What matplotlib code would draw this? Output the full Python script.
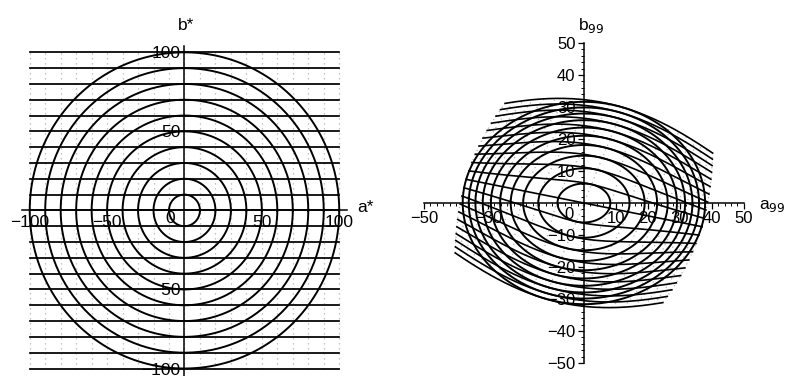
import numpy as np
import matplotlib
matplotlib.use('Agg')
import matplotlib.pyplot as plt

plt.rcParams['font.family'] = ['Liberation Sans', 'DejaVu Sans']

# CIELAB grid that is drawn on the left and mapped to DIN99 on the right
chroma_levels = [10, 20, 30, 40, 50, 60, 70, 80, 90, 100]
b_levels = [-100, -90, -80, -70, -60, -50, -40, -30, -20, -10, 0,
            10, 20, 30, 40, 50, 60, 70, 80, 90, 100]
a_levels = [-100, -90, -80, -70, -60, -50, -40, -30, -20, -10, 0,
            10, 20, 30, 40, 50, 60, 70, 80, 90, 100]
a_range = (-100, 100)

lab_ticks = [-100, -50, 50, 100]
din_xticks = [-50, -30, 10, 20, 30, 40, 50]
din_yticks = [-50, -40, -30, -20, -10, 10, 20, 30, 40, 50]


def din99(a, b):
    # DIN 6176 (1999) chroma plane
    c, s = np.cos(np.radians(16)), np.sin(np.radians(16))
    e = a*c + b*s
    f = 0.7*(-a*s + b*c)
    G = np.hypot(e, f)
    C99 = np.log(1 + 0.045*G)/0.045
    h = np.arctan2(f, e)
    return C99*np.cos(h), C99*np.sin(h)


t = np.linspace(0, 2*np.pi, 400)
u = np.linspace(a_range[0], a_range[1], 200)

fig = plt.figure(figsize=(7.88, 3.76), dpi=100)
ax1 = fig.add_axes([0.0279, -0.0053, 0.4124, 0.883])
ax2 = fig.add_axes([0.538, 0.0346, 0.406, 0.851])

lw = 1.4
dot = dict(color='0.7', lw=0.9, ls=(0, (1, 3)))

#%% left: a*, b*
for a in a_levels:
    ax1.plot([a, a], a_range, **dot)
for b in b_levels:
    ax1.plot(a_range, [b, b], color='k', lw=lw*0.9)
for C in chroma_levels:
    ax1.plot(C*np.cos(t), C*np.sin(t), color='k', lw=lw)

#%% right: a99, b99
for a in a_levels:
    x, y = din99(np.full_like(u, a), u)
    ax2.plot(x, y, **dot)
for b in b_levels:
    x, y = din99(u, np.full_like(u, b))
    ax2.plot(x, y, color='k', lw=lw*0.85)
for C in chroma_levels:
    x, y = din99(C*np.cos(t), C*np.sin(t))
    ax2.plot(x, y, color='k', lw=lw)

for ax in (ax1, ax2):
    ax.spines['left'].set_position('zero')
    ax.spines['bottom'].set_position('zero')
    ax.spines['right'].set_visible(False)
    ax.spines['top'].set_visible(False)
    for sp in ('left', 'bottom'):
        ax.spines[sp].set_linewidth(1.1)
    ax.patch.set_alpha(0)

ax1.set_xlim(-105, 105)
ax1.set_ylim(-106, 104)
ax1.set_xticks(lab_ticks)
ax1.set_yticks(lab_ticks)
ax1.tick_params(length=0, labelsize=12.5, pad=3)
ax1.text(-9, -5, '0', fontsize=12.5, ha='center', va='center')
ax1.text(1, 117, 'b*', fontsize=12.5, ha='center', va='center', clip_on=False)
ax1.text(117, 2, 'a*', fontsize=12.5, ha='center', va='center', clip_on=False)

ax2.set_xlim(-50, 50)
ax2.set_ylim(-50, 50)
ax2.set_xticks(din_xticks)
ax2.set_yticks(din_yticks)
ax2.set_xticks(np.arange(-50, 51, 2), minor=True)
ax2.set_yticks(np.arange(-50, 51, 2), minor=True)
ax2.tick_params(which='major', length=4, width=0.9, labelsize=12, pad=2)
ax2.tick_params(which='minor', length=2.5, width=0.7)
ax2.text(-4.6, -3.6, '0', fontsize=12, ha='center', va='center')
ax2.text(2.2, 55.5, r'b$_{99}$', fontsize=12.5, ha='center', va='center', clip_on=False)
ax2.text(59, -1, r'a$_{99}$', fontsize=12.5, ha='center', va='center', clip_on=False)

fig.savefig('out.png', dpi=100)
